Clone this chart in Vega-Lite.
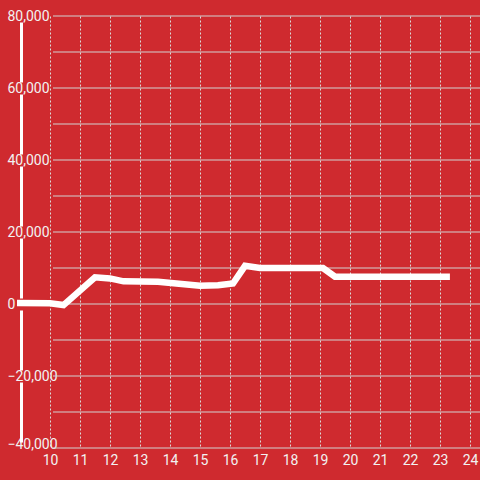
{
  "$schema": "https://vega.github.io/schema/vega-lite/v6.json",
  "width": 463,
  "height": 432,
  "autosize": {"type": "none"},
  "padding": {"left": 17, "top": 16, "right": 0, "bottom": 32},
  "background": "#cf2a2f",
  "config": {
    "view": {"stroke": null},
    "font": "Roboto",
    "axisX": {
      "values": [10, 11, 12, 13, 14, 15, 16, 17, 18, 19, 20, 21, 22, 23, 24],
      "tickCount": 15,
      "format": "d",
      "domain": false,
      "ticks": false,
      "tickSize": 0,
      "labelPadding": 5,
      "labelFontSize": 14,
      "labelColor": "#f2f2f2",
      "labelFlush": false,
      "labelOverlap": false,
      "labelBound": false,
      "grid": true,
      "gridColor": "#dadada",
      "gridDash": [2, 2],
      "gridWidth": 1,
      "title": null
    },
    "axisY": {
      "values": [-40000, -20000, 0, 20000, 40000, 60000, 80000],
      "format": ",.0f",
      "grid": false,
      "ticks": false,
      "tickSize": 0,
      "domain": true,
      "domainColor": "#ffffff",
      "domainWidth": 3,
      "domainDash": [60, 12],
      "domainDashOffset": 66,
      "offset": -4,
      "labelAlign": "left",
      "labelPadding": 14,
      "labelFontSize": 14,
      "labelColor": "#f2f2f2",
      "labelFlush": false,
      "labelOverlap": false,
      "title": null
    }
  },
  "datasets": {
    "series": [
      {"h": 8.9, "v": 300},
      {"h": 10.0, "v": 200},
      {"h": 10.45, "v": -300},
      {"h": 11.5, "v": 7400},
      {"h": 12.0, "v": 7100},
      {"h": 12.45, "v": 6300},
      {"h": 13.6, "v": 6200},
      {"h": 14.3, "v": 5600},
      {"h": 15.0, "v": 5100},
      {"h": 15.6, "v": 5200},
      {"h": 16.1, "v": 5700},
      {"h": 16.5, "v": 10600},
      {"h": 17.0, "v": 10000},
      {"h": 19.1, "v": 10000},
      {"h": 19.5, "v": 7600},
      {"h": 23.33, "v": 7600}
    ],
    "grid": [
      {"v": -40000}, {"v": -30000}, {"v": -20000}, {"v": -10000}, {"v": 0},
      {"v": 10000}, {"v": 20000}, {"v": 30000}, {"v": 40000}, {"v": 50000},
      {"v": 60000}, {"v": 70000}, {"v": 80000}
    ]
  },
  "layer": [
    {
      "data": {"name": "grid"},
      "mark": {"type": "rule", "color": "#d2d2d2", "strokeWidth": 1},
      "encoding": {
        "y": {"field": "v", "type": "quantitative", "title": null, "scale": {"domain": [-40000, 80000], "nice": false, "zero": false}},
        "x": {"datum": 10.1, "type": "quantitative", "title": null, "scale": {"domain": [8.9, 24.333], "nice": false, "zero": false}},
        "x2": {"datum": 24.333}
      }
    },
    {
      "mark": {"type": "rule", "color": "#ffffff", "strokeWidth": 3},
      "encoding": {
        "y": {"datum": 0, "type": "quantitative", "title": null, "scale": {"domain": [-40000, 80000], "nice": false, "zero": false}}
      }
    },
    {
      "data": {"name": "series"},
      "mark": {"type": "line", "color": "#ffffff", "strokeWidth": 6.5},
      "encoding": {
        "x": {
          "field": "h", "type": "quantitative", "title": null,
          "scale": {"domain": [8.9, 24.333], "nice": false, "zero": false},
          "axis": {
            "values": [10, 11, 12, 13, 14, 15, 16, 17, 18, 19, 20, 21, 22, 23, 24],
            "labelOverlap": false
          }
        },
        "y": {
          "field": "v", "type": "quantitative", "title": null,
          "scale": {"domain": [-40000, 80000], "nice": false, "zero": false},
          "axis": {
            "values": [-40000, -20000, 0, 20000, 40000, 60000, 80000],
            "labelBaseline": {"condition": {"test": "datum.value == -40000", "value": "alphabetic"}, "value": "middle"},
            "encode": {"labels": {"update": {"dx": {"signal": "datum.value < 0 ? -4 : 0"}}}}
          }
        }
      }
    }
  ]
}
